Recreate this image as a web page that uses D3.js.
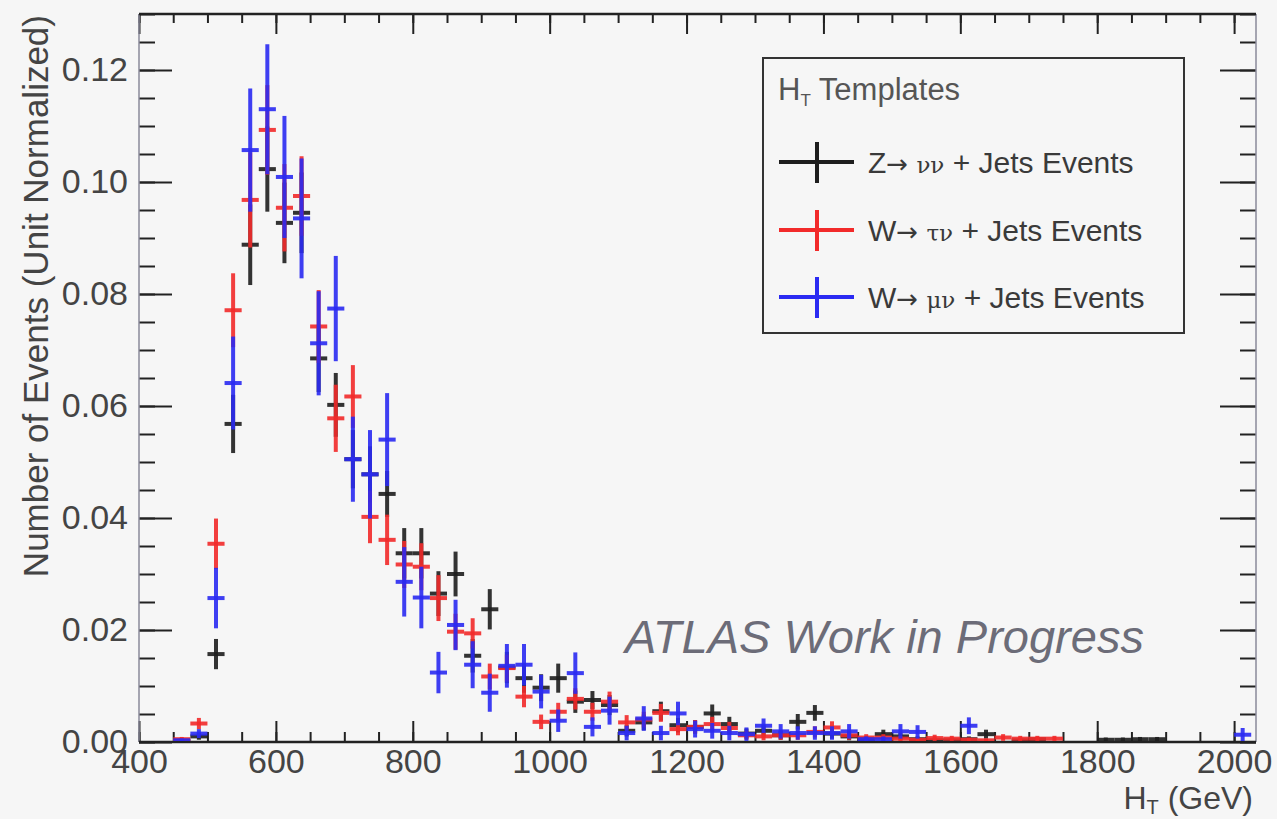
<!DOCTYPE html>
<html>
  <head>
    <title>HT Templates</title>
    <meta charset="utf-8">
    <style>
      body { margin: 0; background-color: #f6f6f6; }
      svg { display: block; font-family: "Liberation Sans", Arial, sans-serif; }
      .tick text { fill: #444; font-size: 34px; }
      .axis path { display: none; }
      .axis line { stroke: #222; stroke-width: 2px; }
    </style>
    <script src="https://cdnjs.cloudflare.com/ajax/libs/d3/7.8.5/d3.min.js"></script>
  </head>
  <body>
    <svg id="chart" width="1277" height="819"></svg>
    <script>
      // bin centres (GeV), bins are 25 GeV wide
      var htBins = [
         462.5,  487.5,  512.5,  537.5,  562.5,  587.5,  612.5,  637.5,  662.5,  687.5,
         712.5,  737.5,  762.5,  787.5,  812.5,  837.5,  862.5,  887.5,  912.5,  937.5,
         962.5,  987.5, 1012.5, 1037.5, 1062.5, 1087.5, 1112.5, 1137.5, 1162.5, 1187.5,
        1212.5, 1237.5, 1262.5, 1287.5, 1312.5, 1337.5, 1362.5, 1387.5, 1412.5, 1437.5,
        1462.5, 1487.5, 1512.5, 1537.5, 1562.5, 1587.5, 1612.5, 1637.5, 1662.5, 1687.5,
        1712.5, 1737.5, 1762.5, 1787.5, 1812.5, 1837.5, 1862.5, 1887.5, 1912.5, 1937.5,
        1962.5, 1987.5, 2012.5
      ];
      var binWidth = 25;

      // Z -> nu nu + jets (black)
      var zVals = [
        .0002, .0010, .0157, .0568, .0888, .1023, .0927, .0945, .0685, .0602,
        .0505, .0478, .0443, .0337, .0337, .0265, .0300, .0154, .0237, .0133,
        .0114, .0097, .0114, .0072, .0075, .0066, .0020, .0035, .0055, .0030,
        .0027, .0051, .0032, .0015, .0020, .0012, .0036, .0052, .0015, .0010,
        .0005, .0014, .0010, .0005, .0003, .0003, .0005, .0014, 0,     .0003,
        .0005, 0,     0,     0,     .0004, .0004, .0005, .0005, 0,     0,
        0,     0,     0
      ];
      var zErr = [
        .0002, .0006, .0027, .0052, .0072, .0076, .0072, .0072, .0060, .0057,
        .0052, .0050, .0041, .0045, .0045, .0040, .0040, .0030, .0036, .0028,
        .0026, .0024, .0026, .0020, .0016, .0018, .0010, .0014, .0017, .0013,
        .0012, .0016, .0013, .0009, .0010, .0008, .0014, .0014, .0009, .0007,
        .0005, .0008, .0007, .0005, .0003, .0003, .0005, .0008, 0,     .0003,
        .0004, 0,     0,     0,     .0004, .0004, .0004, .0004, 0,     0,
        0,     0,     0
      ];

      // W -> tau nu + jets (red)
      var tauVals = [
        .0005, .0033, .0354, .0771, .0968, .1093, .0954, .0975, .0742, .0578,
        .0617, .0402, .0361, .0317, .0313, .0257, .0197, .0194, .0117, .0132,
        .0081, .0036, .0054, .0077, .0054, .0072, .0035, .0040, .0052, .0023,
        .0027, .0032, .0025, .0012, .0010, .0012, .0012, .0018, .0026, .0012,
        .0008, .0008, .0006, .0004, .0007, .0006, .0004, .0003, .0008, .0006,
        .0006, .0006, 0,     0,     0,     0,     0,     0,     0,     0,
        0,     0,     0
      ];
      var tauErr = [
        .0004, .0010, .0045, .0066, .0085, .0080, .0078, .0071, .0065, .0060,
        .0056, .0047, .0045, .0042, .0042, .0041, .0032, .0027, .0023, .0024,
        .0019, .0013, .0016, .0019, .0016, .0018, .0013, .0014, .0016, .0011,
        .0012, .0013, .0011, .0008, .0007, .0008, .0008, .0010, .0011, .0008,
        .0006, .0006, .0005, .0004, .0006, .0005, .0004, .0003, .0006, .0005,
        .0005, .0005, 0,     0,     0,     0,     0,     0,     0,     0,
        0,     0,     0
      ];

      // W -> mu nu + jets (blue)
      var muVals = [
        .0003, .0015, .0257, .0641, .1057, .1130, .1009, .0935, .0712, .0774,
        .0505, .0478, .0540, .0286, .0258, .0124, .0209, .0138, .0088, .0136,
        .0138, .0090, .0038, .0123, .0027, .0056, .0016, .0042, .0016, .0051,
        .0023, .0020, .0016, .0014, .0029, .0019, .0016, .0016, .0016, .0019,
        .0005, .0005, .0019, .0018, 0,     0,     .0029, 0,     0,     0,
        0,     0,     0,     0,     0,     0,     0,     0,     0,     0,
        0,     0,     .0013
      ];
      var muErr = [
        .0003, .0008, .0054, .0083, .0110, .0116, .0109, .0107, .0093, .0094,
        .0076, .0079, .0083, .0062, .0055, .0037, .0045, .0042, .0034, .0039,
        .0037, .0030, .0020, .0037, .0017, .0025, .0013, .0022, .0013, .0021,
        .0015, .0014, .0013, .0012, .0013, .0013, .0012, .0012, .0012, .0013,
        .0005, .0005, .0013, .0012, 0,     0,     .0015, 0,     0,     0,
        0,     0,     0,     0,     0,     0,     0,     0,     0,     0,
        0,     0,     .0012
      ];

      var xTicks = [400, 600, 800, 1000, 1200, 1400, 1600, 1800, 2000];
      var yTicks = [0, 0.02, 0.04, 0.06, 0.08, 0.10, 0.12];

      var series = [
        { name: 'Z', vals: zVals, errs: zErr, color: '#1e1e1e' },
        { name: 'tau', vals: tauVals, errs: tauErr, color: '#f22a2a' },
        { name: 'mu', vals: muVals, errs: muErr, color: '#2a2af2' }
      ];

      var frame = { left: 139, right: 1256, top: 14, bottom: 742 };
      var svg = d3.select('#chart');

      svg.append('rect').attr('width', 1277).attr('height', 819).attr('fill', '#f6f6f6');

      var x = d3.scaleLinear().domain([400, 2032]).range([frame.left, frame.right]);
      var y = d3.scaleLinear().domain([0, 0.13]).range([frame.bottom, frame.top]);

      var xMinor = d3.range(400, 2032, 50);
      var yMinor = d3.range(0, 0.1301, 0.005);

      // minor ticks
      svg.append('g').attr('class', 'axis').attr('transform', 'translate(0,' + frame.bottom + ')')
        .call(d3.axisBottom(x).tickValues(xMinor).tickSize(-10).tickFormat(''));
      svg.append('g').attr('class', 'axis').attr('transform', 'translate(0,' + frame.top + ')')
        .call(d3.axisTop(x).tickValues(xMinor).tickSize(-9).tickFormat(''));
      svg.append('g').attr('class', 'axis').attr('transform', 'translate(' + frame.left + ',0)')
        .call(d3.axisLeft(y).tickValues(yMinor).tickSize(-16).tickFormat(''));
      svg.append('g').attr('class', 'axis').attr('transform', 'translate(' + frame.right + ',0)')
        .call(d3.axisRight(y).tickValues(yMinor).tickSize(-16).tickFormat(''));

      // major ticks + labels
      svg.append('g').attr('class', 'axis').attr('transform', 'translate(0,' + frame.bottom + ')')
        .call(d3.axisBottom(x).tickValues(xTicks).tickSize(-21).tickPadding(7).tickFormat(d3.format('d')));
      svg.append('g').attr('class', 'axis').attr('transform', 'translate(0,' + frame.top + ')')
        .call(d3.axisTop(x).tickValues(xTicks).tickSize(-20).tickFormat(''));
      svg.append('g').attr('class', 'axis').attr('transform', 'translate(' + frame.left + ',0)')
        .call(d3.axisLeft(y).tickValues(yTicks).tickSize(-33).tickPadding(11).tickFormat(d3.format('.2f')));
      svg.append('g').attr('class', 'axis').attr('transform', 'translate(' + frame.right + ',0)')
        .call(d3.axisRight(y).tickValues(yTicks).tickSize(-36).tickFormat(''));

      // frame
      svg.append('line').attr('x1', frame.left).attr('x2', frame.left).attr('y1', frame.top).attr('y2', frame.bottom)
        .attr('stroke', '#8a8a9a').attr('stroke-width', 1.5);
      svg.append('line').attr('x1', frame.right).attr('x2', frame.right).attr('y1', frame.top).attr('y2', frame.bottom)
        .attr('stroke', '#8a8a9a').attr('stroke-width', 1.5);
      svg.append('line').attr('x1', frame.left).attr('x2', frame.right).attr('y1', frame.top).attr('y2', frame.top)
        .attr('stroke', '#222').attr('stroke-width', 2.5);
      svg.append('line').attr('x1', frame.left).attr('x2', frame.right).attr('y1', frame.bottom).attr('y2', frame.bottom)
        .attr('stroke', '#222').attr('stroke-width', 2.5);

      // data points with error bars
      svg.append('clipPath').attr('id', 'clip').append('rect')
        .attr('x', frame.left).attr('y', frame.top)
        .attr('width', frame.right - frame.left).attr('height', frame.bottom - frame.top - 1);

      var plot = svg.append('g').attr('clip-path', 'url(#clip)');

      series.forEach(function (s) {
        var pts = htBins.map(function (c, i) { return { c: c, v: s.vals[i], e: s.errs[i] }; })
          .filter(function (d) { return d.v > 0; });
        var g = plot.append('g').attr('stroke', s.color).attr('stroke-width', 4).attr('stroke-opacity', 0.9);
        g.selectAll('line.h').data(pts).enter().append('line').attr('class', 'h')
          .attr('x1', function (d) { return x(d.c - binWidth / 2); })
          .attr('x2', function (d) { return x(d.c + binWidth / 2); })
          .attr('y1', function (d) { return y(d.v); })
          .attr('y2', function (d) { return y(d.v); });
        g.selectAll('line.v').data(pts).enter().append('line').attr('class', 'v')
          .attr('x1', function (d) { return x(d.c); })
          .attr('x2', function (d) { return x(d.c); })
          .attr('y1', function (d) { return y(Math.max(0, d.v - d.e)); })
          .attr('y2', function (d) { return y(d.v + d.e); });
      });

      // axis titles
      svg.append('text').attr('x', 1253).attr('y', 809).attr('text-anchor', 'end')
        .attr('fill', '#444').style('font-size', '32px')
        .html('H<tspan font-size="20px" dy="5">T</tspan><tspan dy="-5"> (GeV)</tspan>');
      svg.append('text').attr('transform', 'translate(48,15) rotate(-90)').attr('text-anchor', 'end')
        .attr('fill', '#444').style('font-size', '35px')
        .text('Number of Events (Unit Normalized)');

      // watermark
      svg.append('text').attr('x', 625).attr('y', 653).attr('fill', '#6c6c78')
        .style('font-size', '47px').style('font-style', 'italic')
        .text('ATLAS Work in Progress');

      // legend
      var legend = svg.append('g');
      legend.append('rect').attr('x', 763).attr('y', 58).attr('width', 421).attr('height', 275)
        .attr('fill', '#f6f6f6').attr('stroke', '#333').attr('stroke-width', 2);
      legend.append('text').attr('x', 778).attr('y', 100).attr('fill', '#555').style('font-size', '31px')
        .html('H<tspan font-size="17px" dy="6">T</tspan><tspan dy="-6"> Templates</tspan>');

      var legendRows = [
        { label: ['Z', '\u2192 ', '\u03bd\u03bd', ' + Jets Events'], color: series[0].color, y: 162 },
        { label: ['W', '\u2192 ', '\u03c4\u03bd', ' + Jets Events'], color: series[1].color, y: 230 },
        { label: ['W', '\u2192 ', '\u03bc\u03bd', ' + Jets Events'], color: series[2].color, y: 297 }
      ];
      legendRows.forEach(function (r) {
        var g = legend.append('g').attr('stroke', r.color).attr('stroke-width', 4);
        g.append('line').attr('x1', 779).attr('x2', 854).attr('y1', r.y).attr('y2', r.y);
        g.append('line').attr('x1', 817).attr('x2', 817).attr('y1', r.y - 20).attr('y2', r.y + 21);
        var t = legend.append('text').attr('x', 868).attr('y', r.y + 11).attr('fill', '#3a3a3a').style('font-size', '30px');
        t.append('tspan').text(r.label[0]);
        t.append('tspan').style('font-family', '"DejaVu Sans", sans-serif').style('font-size', '26px').text(r.label[1]);
        t.append('tspan').style('font-size', '23px').style('font-family', '"DejaVu Serif", serif').text(r.label[2]);
        t.append('tspan').text(r.label[3]);
      });
    </script>
  </body>
</html>
